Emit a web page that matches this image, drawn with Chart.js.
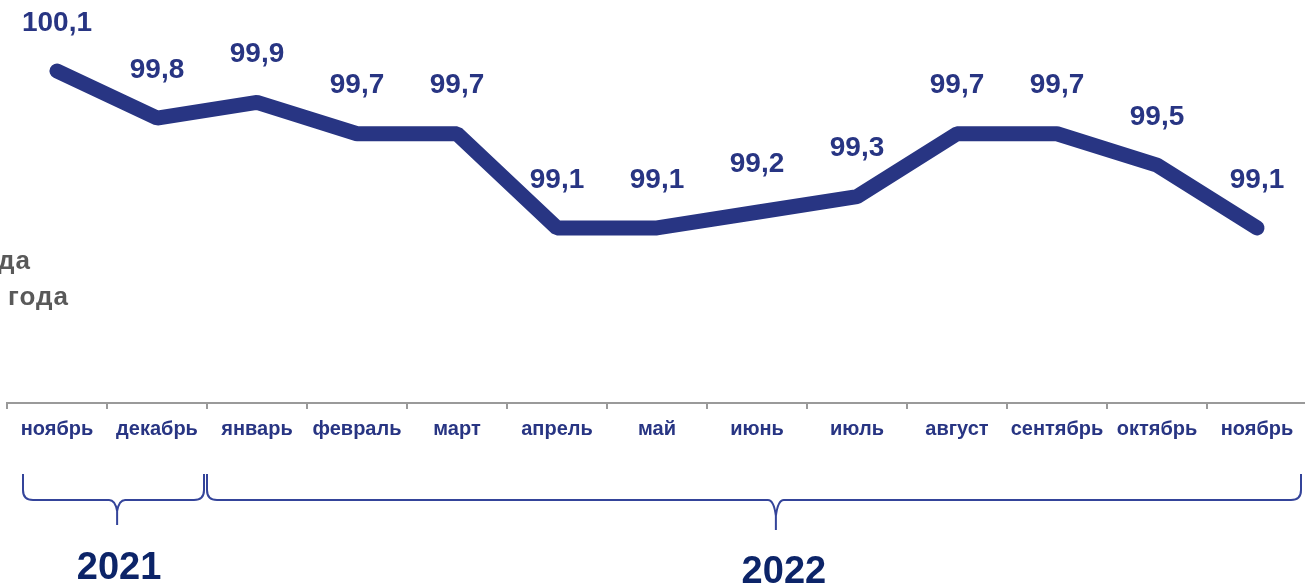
<!DOCTYPE html>
<html>
<head>
<meta charset="utf-8">
<script src="https://cdn.jsdelivr.net/npm/chart.js@4.4.1/dist/chart.umd.min.js"></script>
<style>
  html, body { margin: 0; padding: 0; overflow: hidden; background: #fff; }
  #wrap { width: 1310px; height: 587px; }
</style>
</head>
<body>
<div id="wrap"><canvas id="c"></canvas></div>
<script>
// data
const months = ["ноябрь", "декабрь", "январь", "февраль", "март", "апрель", "май",
                "июнь", "июль", "август", "сентябрь", "октябрь", "ноябрь"];
const values = [100.1, 99.8, 99.9, 99.7, 99.7, 99.1, 99.1, 99.2, 99.3, 99.7, 99.7, 99.5, 99.1];
const years = ["2021", "2022"];
const yearFrom = [0, 2];
const yearTo = [1, 12];
const legendLines = ["да", "года"];

const navy = '#283583';
const font = '"Liberation Sans", Arial, sans-serif';

const extras = {
  id: 'extras',
  afterDatasetsDraw(chart) {
    const ctx = chart.ctx;
    const meta = chart.getDatasetMeta(0);
    ctx.save();
    // value labels
    ctx.font = 'bold 28px ' + font;
    ctx.fillStyle = navy;
    ctx.textAlign = 'center';
    ctx.textBaseline = 'middle';
    meta.data.forEach((pt, i) => {
      ctx.fillText(values[i].toFixed(1).replace('.', ','), pt.x, pt.y - 48);
    });

    // left cut-off legend text
    ctx.font = 'bold 26px ' + font;
    ctx.fillStyle = '#595959';
    ctx.textAlign = 'right';
    ctx.letterSpacing = '1px';
    ctx.fillText(legendLines[0], 31, 262);
    ctx.fillText(legendLines[1], 69, 298);
    ctx.letterSpacing = '0px';

    // braces
    const x = chart.scales.x;
    ctx.strokeStyle = '#34449a';
    ctx.lineWidth = 2;
    ctx.textAlign = 'center';
    years.forEach((yr, k) => {
      const l = x.getPixelForValue(yearFrom[k]) - 50 + (k === 0 ? 16 : 0);
      const r = x.getPixelForValue(yearTo[k]) + 50 - (k === 0 ? 3 : 6);
      const m = l + 0.52 * (r - l);
      const top = 474, mid = 500, tip = k === 0 ? 525 : 530;
      ctx.beginPath();
      ctx.moveTo(l, top);
      ctx.lineTo(l, mid - 10);
      ctx.quadraticCurveTo(l, mid, l + 10, mid);
      ctx.lineTo(m - 8, mid);
      ctx.quadraticCurveTo(m - 2, mid, m, tip - 14);
      ctx.lineTo(m, tip);
      ctx.moveTo(m, tip - 14);
      ctx.quadraticCurveTo(m + 2, mid, m + 8, mid);
      ctx.lineTo(r - 10, mid);
      ctx.quadraticCurveTo(r, mid, r, mid - 10);
      ctx.lineTo(r, top);
      ctx.stroke();

      ctx.font = 'bold 38px ' + font;
      ctx.fillStyle = '#0c2468';
      ctx.fillText(yr, m + (k === 0 ? 2 : 8), k === 0 ? 569 : 573);
    });
    ctx.restore();
  }
};

new Chart(document.getElementById('c'), {
  type: 'line',
  data: {
    labels: months,
    datasets: [{
      data: values,
      borderColor: navy,
      borderWidth: 15,
      borderCapStyle: 'round',
      borderJoinStyle: 'bevel',
      pointRadius: 0,
      tension: 0,
      clip: false
    }]
  },
  options: {
    responsive: true,
    maintainAspectRatio: false,
    animation: false,
    layout: { padding: { left: 7, right: 3, top: 0, bottom: 0 } },
    plugins: { legend: { display: false }, tooltip: { enabled: false } },
    scales: {
      y: { display: false, min: 97.985, max: 100.552 },
      x: {
        offset: true,
        afterFit(s) { s.height = 184; },
        border: { display: true, color: '#9a9a9a', width: 2 },
        grid: { offset: true, drawOnChartArea: false, color: '#9a9a9a', lineWidth: 2, tickLength: 6 },
        ticks: {
          color: navy,
          padding: 8,
          maxRotation: 0,
          autoSkip: false,
          font: { family: font, weight: 'bold', size: 20 }
        }
      }
    }
  },
  plugins: [extras]
});
</script>
</body>
</html>
